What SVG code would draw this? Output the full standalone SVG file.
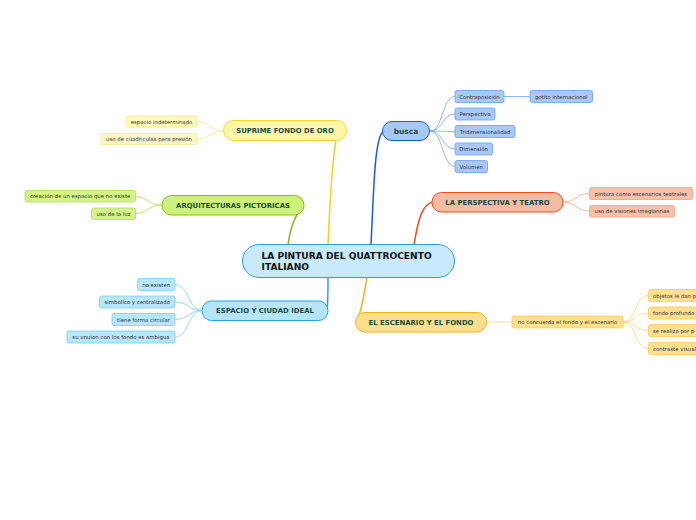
<svg xmlns="http://www.w3.org/2000/svg" width="696" height="520" viewBox="0 0 696 520">
<style>
text{font-family:"DejaVu Sans","Liberation Sans",Arial,sans-serif}
.main{font-size:6.9px;font-weight:bold;fill:#1e4a3a;text-anchor:middle}
.sub{font-size:5.4px;fill:#333;text-anchor:middle}
.subl{font-size:5.4px;fill:#333}
.c{fill:none}
</style>
<rect width="696" height="520" fill="#ffffff"/>
<g id="connectors" class="c">
  <path d="M328,245 C330,200 332,160 336,141" stroke="#f2d21e" stroke-width="1.5" fill="none"/>
  <path d="M288,245 C290,230 295,215 303,206" stroke="#80b422" stroke-width="1.5" fill="none"/>
  <path d="M371,245 C374,180 375,135 384,131" stroke="#1a5fd0" stroke-width="1.5" fill="none"/>
  <path d="M414,245 C418,220 422,204 433,202" stroke="#e8501e" stroke-width="1.5" fill="none"/>
  <path d="M328,277 C328,290 328,303 327,310" stroke="#2aa0e0" stroke-width="1.5" fill="none"/>
  <path d="M367,277 C364,295 362,310 357,321" stroke="#f2b21c" stroke-width="1.5" fill="none"/>
  <g stroke="#f5e77a" stroke-width="0.8" fill="none">
    <path d="M223,131 C210,131 210,121.5 197,121.5"/>
    <path d="M223,131 C210,131 210,139 197,139"/>
  </g>
  <g stroke="#b0dc50" stroke-width="0.8" fill="none">
    <path d="M162,205 C148,205 148,196.5 135,196.5"/>
    <path d="M162,205 C148,205 148,213.5 135,213.5"/>
  </g>
  <g stroke="#7aa6f0" stroke-width="0.8" fill="none">
    <path d="M430,131 C443,131 442,96.5 455,96.5"/>
    <path d="M430,131 C443,131 442,114 455,114"/>
    <path d="M430,131 C443,131 442,131.5 455,131.5"/>
    <path d="M430,131 C443,131 442,149 455,149"/>
    <path d="M430,131 C443,131 442,166.5 455,166.5"/>
    <path d="M504,96.5 L530,96.5"/>
  </g>
  <g stroke="#f4a888" stroke-width="0.8" fill="none">
    <path d="M563,202 C576,202 576,193.5 589,193.5"/>
    <path d="M563,202 C576,202 576,211 589,211"/>
  </g>
  <g stroke="#80cdf0" stroke-width="0.8" fill="none">
    <path d="M202,310.5 C188,310.5 189,284.5 175,284.5"/>
    <path d="M202,310.5 C188,310.5 189,302 175,302"/>
    <path d="M202,310.5 C188,310.5 189,319.5 175,319.5"/>
    <path d="M202,310.5 C188,310.5 189,337 175,337"/>
  </g>
  <g stroke="#fad27a" stroke-width="0.8" fill="none">
    <path d="M487,322 L512,322"/>
    <path d="M623,322 C636,322 635,295.5 648,295.5"/>
    <path d="M623,322 C636,322 635,313 648,313"/>
    <path d="M623,322 C636,322 635,330.5 648,330.5"/>
    <path d="M623,322 C636,322 635,348.5 648,348.5"/>
  </g>
</g>
<g id="center">
  <rect x="242.5" y="244.5" width="212" height="33" rx="16.5" fill="#c7eafc" stroke="#2e9fe0" stroke-width="1"/>
  <text x="261.5" y="258.8" style="font-size:9.1px;font-weight:bold;fill:#111">LA PINTURA DEL QUATTROCENTO</text>
  <text x="261.5" y="269.8" style="font-size:9.1px;font-weight:bold;fill:#111">ITALIANO</text>
</g>
<g id="suprime">
  <rect x="223.5" y="120.5" width="123" height="20" rx="10" fill="#fff7a8" stroke="#f0d830" stroke-width="1"/>
  <text class="main" x="285" y="133.3">SUPRIME FONDO DE ORO</text>
</g>
<g id="suprime-1">
  <rect x="126" y="116" width="71" height="11" rx="2" fill="#fff8c4" stroke="#f5e88a" stroke-width="0.8"/>
  <text class="sub" x="161.5" y="123.5">espacio indeterminado</text>
</g>
<g id="suprime-2">
  <rect x="101" y="133.5" width="96" height="11" rx="2" fill="#fff8c4" stroke="#f5e88a" stroke-width="0.8"/>
  <text class="sub" x="149" y="141">uso de cuadriculas para presión</text>
</g>
<g id="arquitecturas">
  <rect x="162" y="195.5" width="142" height="19.5" rx="9.5" fill="#cdf27c" stroke="#84be22" stroke-width="1"/>
  <text class="main" x="233" y="207.8">ARQUITECTURAS PICTORICAS</text>
</g>
<g id="arq-1">
  <rect x="25" y="190.5" width="110.5" height="11.5" rx="2" fill="#d3f48a" stroke="#b2dc52" stroke-width="0.8"/>
  <text class="sub" x="80.2" y="198.3">creación de un espacio que no existe</text>
</g>
<g id="arq-2">
  <rect x="91.5" y="208" width="44" height="11.5" rx="2" fill="#d3f48a" stroke="#b2dc52" stroke-width="0.8"/>
  <text class="sub" x="113.5" y="215.8">uso de la luz</text>
</g>
<g id="busca">
  <rect x="382.5" y="121.5" width="47" height="19" rx="9.5" fill="#a6c8fa" stroke="#1a5fd0" stroke-width="1"/>
  <text class="main" x="406" y="134" style="font-size:7.5px">busca</text>
</g>
<g id="busca-1">
  <rect x="455" y="90.5" width="49" height="12" rx="2" fill="#a8c8f8" stroke="#6c9ef0" stroke-width="0.8"/>
  <text class="sub" x="479.5" y="98.6">Contraposición</text>
</g>
<g id="busca-1-1">
  <rect x="530" y="90.5" width="62.5" height="12" rx="2" fill="#a8c8f8" stroke="#6c9ef0" stroke-width="0.8"/>
  <text class="sub" x="561.2" y="98.6">gotito internacional</text>
</g>
<g id="busca-2">
  <rect x="455" y="108" width="40" height="12" rx="2" fill="#a8c8f8" stroke="#6c9ef0" stroke-width="0.8"/>
  <text class="sub" x="475" y="116.1">Perspectiva</text>
</g>
<g id="busca-3">
  <rect x="455" y="125.5" width="60" height="12" rx="2" fill="#a8c8f8" stroke="#6c9ef0" stroke-width="0.8"/>
  <text class="sub" x="485" y="133.6">Tridimensionalidad</text>
</g>
<g id="busca-4">
  <rect x="455" y="143" width="37.5" height="12" rx="2" fill="#a8c8f8" stroke="#6c9ef0" stroke-width="0.8"/>
  <text class="sub" x="473.7" y="151.1">Dimensión</text>
</g>
<g id="busca-5">
  <rect x="455" y="160.5" width="32.5" height="12" rx="2" fill="#a8c8f8" stroke="#6c9ef0" stroke-width="0.8"/>
  <text class="sub" x="471.2" y="168.6">Volumen</text>
</g>
<g id="perspectiva">
  <rect x="432" y="192.5" width="131" height="19.5" rx="9.5" fill="#f7bba3" stroke="#e8501e" stroke-width="1"/>
  <text class="main" x="497.5" y="204.8">LA PERSPECTIVA Y TEATRO</text>
</g>
<g id="persp-1">
  <rect x="589.5" y="187.5" width="103" height="12" rx="2" fill="#f8c0a8" stroke="#f2a084" stroke-width="0.8"/>
  <text class="sub" x="641" y="195.6">pintura como escenarios teatrales</text>
</g>
<g id="persp-2">
  <rect x="589.5" y="205.5" width="85" height="11.5" rx="2" fill="#f8c0a8" stroke="#f2a084" stroke-width="0.8"/>
  <text class="sub" x="632" y="213.3">uso de visiones imagianrias</text>
</g>
<g id="espacio">
  <rect x="202" y="301" width="126" height="19.5" rx="9.5" fill="#b5e5fa" stroke="#2aa4e0" stroke-width="1"/>
  <text class="main" x="265" y="313.3">ESPACIO Y CIUDAD IDEAL</text>
</g>
<g id="espacio-1">
  <rect x="137.5" y="278.5" width="37.5" height="12" rx="2" fill="#b8e6fa" stroke="#80ccf0" stroke-width="0.8"/>
  <text class="sub" x="156.2" y="286.6">no existen</text>
</g>
<g id="espacio-2">
  <rect x="99.5" y="296" width="75.5" height="12" rx="2" fill="#b8e6fa" stroke="#80ccf0" stroke-width="0.8"/>
  <text class="sub" x="137.2" y="304.1">simbolico y centralizado</text>
</g>
<g id="espacio-3">
  <rect x="112" y="313.5" width="63" height="12" rx="2" fill="#b8e6fa" stroke="#80ccf0" stroke-width="0.8"/>
  <text class="sub" x="143.5" y="321.6">tiene forma circular</text>
</g>
<g id="espacio-4">
  <rect x="67" y="331" width="108" height="12" rx="2" fill="#b8e6fa" stroke="#80ccf0" stroke-width="0.8"/>
  <text class="sub" x="121" y="339.1">su unuion con los fondo es ambigua</text>
</g>
<g id="escenario">
  <rect x="355.5" y="312.5" width="131" height="19.5" rx="9.5" fill="#ffdf8a" stroke="#f2b21c" stroke-width="1"/>
  <text class="main" x="421" y="324.8">EL ESCENARIO Y EL FONDO</text>
</g>
<g id="escenario-1">
  <rect x="512" y="316" width="111" height="12" rx="2" fill="#ffe08f" stroke="#f8cc60" stroke-width="0.8"/>
  <text class="sub" x="567.5" y="324.1">no concuerda el fondo y el escenario</text>
</g>
<g id="escenario-1-1">
  <rect x="648.5" y="289.5" width="60" height="12" rx="2" fill="#ffe08f" stroke="#f8cc60" stroke-width="0.8"/>
  <text class="subl" x="653" y="297.6">objetos le dan p</text>
</g>
<g id="escenario-1-2">
  <rect x="648.5" y="307" width="60" height="12" rx="2" fill="#ffe08f" stroke="#f8cc60" stroke-width="0.8"/>
  <text class="subl" x="653" y="315.1">fondo profundo</text>
</g>
<g id="escenario-1-3">
  <rect x="648.5" y="324.5" width="60" height="12" rx="2" fill="#ffe08f" stroke="#f8cc60" stroke-width="0.8"/>
  <text class="subl" x="653" y="332.6">se realiza por p</text>
</g>
<g id="escenario-1-4">
  <rect x="648.5" y="342.5" width="60" height="12" rx="2" fill="#ffe08f" stroke="#f8cc60" stroke-width="0.8"/>
  <text class="subl" x="653" y="350.6">contraste visual</text>
</g>
</svg>
